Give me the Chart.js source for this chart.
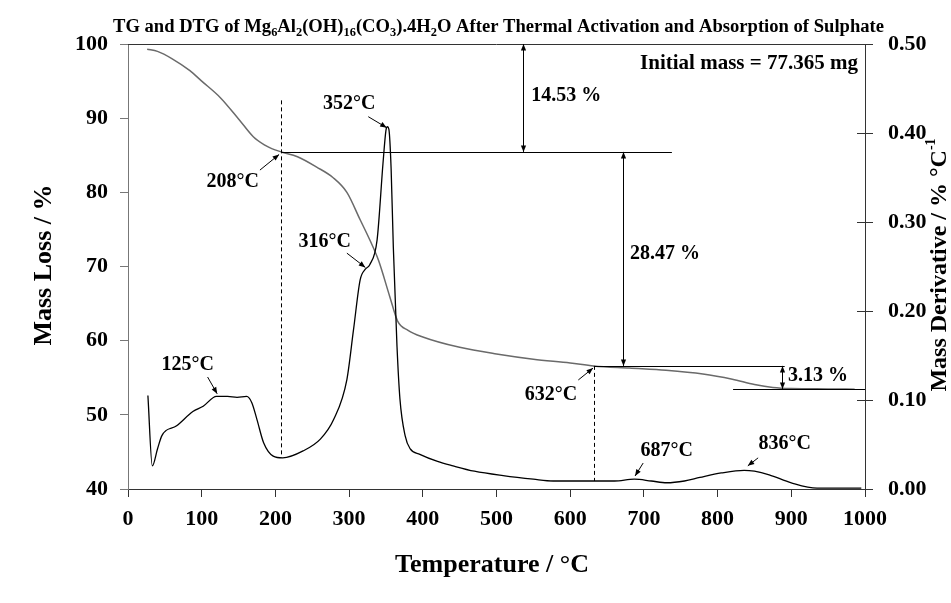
<!DOCTYPE html>
<html><head><meta charset="utf-8">
<script src="https://cdn.jsdelivr.net/npm/chart.js@4.4.0/dist/chart.umd.min.js"></script>
<style>html,body{margin:0;padding:0;background:#fff;} canvas{display:block;}</style>
</head><body>
<canvas id="c" width="951" height="603" style="width:951px;height:603px"></canvas>
<script>
// ---- Data ----
const tgTemp = [26, 40, 60, 84, 100, 125, 150, 170, 185, 195, 208, 230, 256, 278, 297, 315, 328, 340, 355, 366, 380, 400, 450, 500, 550, 600, 632, 680, 730, 780, 820, 850, 875, 900, 950, 986];
const tgMass = [99.3, 99.0, 98.0, 96.4, 95.0, 92.8, 89.9, 87.5, 86.4, 85.9, 85.45, 84.8, 83.4, 82.0, 80.0, 76.3, 73.6, 70.8, 66.0, 62.6, 61.4, 60.5, 59.1, 58.2, 57.5, 57.0, 56.6, 56.3, 56.0, 55.5, 54.8, 54.1, 53.7, 53.55, 53.5, 53.45];

const dtgTemp = [27, 33, 40, 46, 66, 88, 102, 120, 135, 148, 161, 168, 175, 184, 197, 210, 238, 261, 279, 297, 306, 315, 322, 328, 338, 346, 350, 352, 354, 357, 360, 365, 369, 376, 383, 396, 420, 441, 470, 509, 550, 577, 610, 636, 660, 687, 710, 731, 755, 776, 805, 836, 850, 870, 900, 935, 960, 995];
const dtgRate = [0.105, 0.026, 0.045, 0.060, 0.071, 0.087, 0.093, 0.104, 0.104, 0.103, 0.104, 0.097, 0.078, 0.052, 0.037, 0.035, 0.043, 0.056, 0.078, 0.123, 0.179, 0.235, 0.247, 0.252, 0.280, 0.366, 0.403, 0.407, 0.404, 0.360, 0.272, 0.160, 0.101, 0.060, 0.045, 0.039, 0.031, 0.026, 0.020, 0.015, 0.011, 0.009, 0.009, 0.009, 0.009, 0.011, 0.009, 0.007, 0.009, 0.013, 0.018, 0.021, 0.020, 0.016, 0.007, 0.001, 0.001, 0.001];

const tempTicks = [0, 100, 200, 300, 400, 500, 600, 700, 800, 900, 1000];
const tempTickLabels = ['0', '100', '200', '300', '400', '500', '600', '700', '800', '900', '1000'];
const massTicks = [40, 50, 60, 70, 80, 90, 100];
const massTickLabels = ['40', '50', '60', '70', '80', '90', '100'];
const rateTicks = [0, 0.1, 0.2, 0.3, 0.4, 0.5];
const rateTickLabels = ['0.00', '0.10', '0.20', '0.30', '0.40', '0.50'];

const SERIF = '"Liberation Serif","Times New Roman",serif';

function arrowHead(ctx, x1, y1, x2, y2, size) {
  const a = Math.atan2(y2 - y1, x2 - x1);
  ctx.beginPath();
  ctx.moveTo(x2, y2);
  ctx.lineTo(x2 - size * Math.cos(a - 0.38), y2 - size * Math.sin(a - 0.38));
  ctx.lineTo(x2 - size * Math.cos(a + 0.38), y2 - size * Math.sin(a + 0.38));
  ctx.closePath();
  ctx.fill();
}
function arrow(ctx, x1, y1, x2, y2, both) {
  ctx.beginPath(); ctx.moveTo(x1, y1); ctx.lineTo(x2, y2); ctx.stroke();
  arrowHead(ctx, x1, y1, x2, y2, 7);
  if (both) arrowHead(ctx, x2, y2, x1, y1, 7);
}
function drawParts(ctx, parts, x, y, mainFont, subFont, subOff, supOff) {
  let cx = x;
  parts.forEach(([t, kind]) => {
    ctx.font = kind === 0 ? mainFont : subFont;
    const dy = kind === 1 ? subOff : (kind === 2 ? -supOff : 0);
    ctx.fillText(t, cx, y + dy);
    cx += ctx.measureText(t).width;
  });
}
function partsWidth(ctx, parts, mainFont, subFont) {
  let w = 0;
  parts.forEach(([t, kind]) => { ctx.font = kind === 0 ? mainFont : subFont; w += ctx.measureText(t).width; });
  return w;
}

const annot = {
  id: 'annot',
  afterDatasetsDraw(chart) {
    const ctx = chart.ctx, s = chart.scales, ca = chart.chartArea;
    const X = v => s.x.getPixelForValue(v), L = v => s.yL.getPixelForValue(v), R = v => s.yR.getPixelForValue(v);
    ctx.save();
    // top frame line
    ctx.strokeStyle = '#333'; ctx.lineWidth = 1;
    ctx.beginPath(); ctx.moveTo(ca.left, ca.top + 0.5); ctx.lineTo(ca.right, ca.top + 0.5); ctx.stroke();
    // inward ticks right axis
    rateTicks.forEach(v => { const y = Math.round(R(v)) + 0.5; ctx.beginPath(); ctx.moveTo(ca.right - 8, y); ctx.lineTo(ca.right, y); ctx.stroke(); });

    ctx.strokeStyle = '#000'; ctx.fillStyle = '#000'; ctx.lineWidth = 1;
    // horizontal reference lines
    const hl = (t1, t2, m) => { const y = Math.round(L(m)) + 0.5; ctx.beginPath(); ctx.moveTo(X(t1), y); ctx.lineTo(X(t2), y); ctx.stroke(); };
    hl(208, 738, 85.45);
    hl(632, 891, 56.6);
    hl(821, 1000, 53.47);
    // dashed verticals
    ctx.setLineDash([4, 3]);
    ctx.beginPath(); ctx.moveTo(Math.round(X(208)) + 0.5, L(92.4)); ctx.lineTo(Math.round(X(208)) + 0.5, R(0.036)); ctx.stroke();
    ctx.beginPath(); ctx.moveTo(Math.round(X(632)) + 0.5, L(56.6)); ctx.lineTo(Math.round(X(632)) + 0.5, R(0.009)); ctx.stroke();
    ctx.setLineDash([]);
    // mass-step arrows
    const vx = t => Math.round(X(t)) + 0.5;
    arrow(ctx, vx(536), L(100), vx(536), L(85.45), true);
    arrow(ctx, vx(672), L(85.45), vx(672), L(56.6), true);
    arrow(ctx, vx(887), L(56.6), vx(887), L(53.47), true);
    // pointer arrows
    arrow(ctx, X(326), L(90.2), X(351), R(0.406));
    arrow(ctx, X(297), L(71.8), X(322), R(0.249));
    arrow(ctx, X(179), L(83.0), X(205), L(85.1));
    arrow(ctx, X(108), L(55.1), X(121), R(0.107));
    arrow(ctx, X(611), L(54.7), X(631), L(56.3));
    arrow(ctx, X(699), L(43.5), X(688), R(0.0146));
    arrow(ctx, X(855), L(44.2), X(841), R(0.026));

    // labels
    ctx.font = 'bold 20px ' + SERIF; ctx.textBaseline = 'middle'; ctx.textAlign = 'center';
    [['352°C', 300, 91.9], ['316°C', 267, 73.3], ['208°C', 142, 81.4], ['125°C', 81, 56.7],
     ['632°C', 574, 52.7], ['687°C', 731, 45.1], ['836°C', 891, 46.1]].forEach(([t, x, m]) => ctx.fillText(t, X(x), L(m)));
    ctx.textAlign = 'left';
    ctx.fillText('14.53 %', X(547), L(93.0));
    ctx.fillText('28.47 %', X(681), L(71.7));
    ctx.fillText('3.13 %', X(895.5), L(55.24));
    ctx.textAlign = 'right'; ctx.font = 'bold 21px ' + SERIF;
    ctx.fillText('Initial mass = 77.365 mg', X(990.5), L(97.4));

    // title with subscripts
    const tParts = [['TG and DTG of Mg', 0], ['6', 1], ['Al', 0], ['2', 1], ['(OH)', 0], ['16', 1], ['(CO', 0], ['3', 1], [').4H', 0], ['2', 1], ['O After Thermal Activation and Absorption of Sulphate', 0]];
    const mf = 'bold 18px ' + SERIF, sf = 'bold 12px ' + SERIF;
    const tw = partsWidth(ctx, tParts, mf, sf);
    const sx = 771 / tw;
    ctx.save();
    ctx.textAlign = 'left'; ctx.textBaseline = 'alphabetic';
    ctx.translate(113, 32); ctx.scale(sx, 1);
    drawParts(ctx, tParts, 0, 0, mf, sf, 4, 0);
    ctx.restore();

    // axis titles
    ctx.textBaseline = 'middle';
    ctx.font = 'bold 26px ' + SERIF; ctx.textAlign = 'center';
    ctx.fillText('Temperature / °C', 492, 565);
    ctx.save(); ctx.translate(44, 265); ctx.rotate(-Math.PI / 2);
    ctx.fillText('Mass Loss / %', 0, 0); ctx.restore();
    const rParts = [['Mass Derivative / % °C', 0], ['-1', 2]];
    const rf = 'bold 24px ' + SERIF, rsf = 'bold 14px ' + SERIF;
    const rw = partsWidth(ctx, rParts, rf, rsf);
    ctx.save(); ctx.translate(940, 265); ctx.rotate(-Math.PI / 2); ctx.textAlign = 'left';
    drawParts(ctx, rParts, -rw / 2, 0, rf, rsf, 0, 9);
    ctx.restore();
    ctx.restore();
  }
};

const tickFont = { family: SERIF, size: 22, weight: 'bold' };
new Chart(document.getElementById('c'), {
  type: 'line',
  data: {
    datasets: [
      { label: 'DTG', data: dtgTemp.map((t, i) => ({ x: t, y: dtgRate[i] })), yAxisID: 'yR',
        borderColor: '#000', borderWidth: 1.3, pointRadius: 0, cubicInterpolationMode: 'monotone', fill: false },
      { label: 'TG', data: tgTemp.map((t, i) => ({ x: t, y: tgMass[i] })), yAxisID: 'yL',
        borderColor: '#6a6a6a', borderWidth: 1.5, pointRadius: 0, cubicInterpolationMode: 'monotone', fill: false }
    ]
  },
  options: {
    responsive: false, animation: false, devicePixelRatio: 1,
    layout: { padding: { top: 44, left: 0, right: 0, bottom: 0 } },
    plugins: { legend: { display: false }, tooltip: { enabled: false }, title: { display: false } },
    scales: {
      x: {
        type: 'linear', min: 0, max: 1000,
        afterBuildTicks: sc => { sc.ticks = tempTicks.map(v => ({ value: v })); },
        afterFit: sc => { sc.height = 114; },
        ticks: { font: tickFont, color: '#000', padding: 9, maxRotation: 0, autoSkip: false,
          callback: (v, i) => tempTickLabels[i] },
        grid: { drawOnChartArea: false, drawTicks: true, tickLength: 8, color: '#333' },
        border: { display: true, color: '#333', width: 1 }
      },
      yL: {
        type: 'linear', position: 'left', min: 40, max: 100,
        afterBuildTicks: sc => { sc.ticks = massTicks.map(v => ({ value: v })); },
        afterFit: sc => { sc.width = 128; },
        ticks: { font: tickFont, color: '#000', padding: 12, autoSkip: false,
          callback: (v, i) => massTickLabels[i] },
        grid: { drawOnChartArea: false, drawTicks: true, tickLength: 8, color: '#777' },
        border: { display: true, color: '#777', width: 1 }
      },
      yR: {
        type: 'linear', position: 'right', min: 0, max: 0.5,
        afterBuildTicks: sc => { sc.ticks = rateTicks.map(v => ({ value: v })); },
        afterFit: sc => { sc.width = 86; },
        ticks: { font: tickFont, color: '#000', padding: 15, autoSkip: false,
          callback: (v, i) => rateTickLabels[i] },
        grid: { drawOnChartArea: false, drawTicks: true, tickLength: 8, color: '#333' },
        border: { display: true, color: '#333', width: 1 }
      }
    }
  },
  plugins: [annot]
});
</script>
</body></html>
